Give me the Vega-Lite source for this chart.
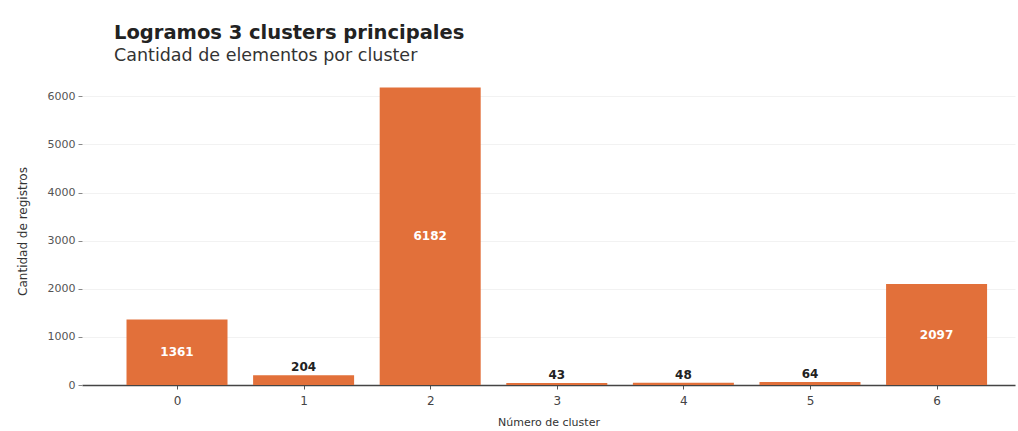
{
  "$schema": "https://vega.github.io/schema/vega-lite/v6.json",
  "autosize": "none",
  "width": 933,
  "height": 308,
  "padding": {"left": 82, "top": 77, "right": 3, "bottom": 46},
  "background": "white",
  "config": {
    "font": "DejaVu Sans",
    "view": {"stroke": null}
  },
  "title": {
    "text": "Logramos 3 clusters principales",
    "subtitle": "Cantidad de elementos por cluster",
    "anchor": "start",
    "frame": "group",
    "dx": 32,
    "offset": 12,
    "fontSize": 19.5,
    "fontWeight": "bold",
    "color": "#222222",
    "subtitleFontSize": 17.5,
    "subtitleColor": "#333333",
    "subtitlePadding": 3
  },
  "data": {
    "values": [
      {"cluster": 0, "n": 1361},
      {"cluster": 1, "n": 204},
      {"cluster": 2, "n": 6182},
      {"cluster": 3, "n": 43},
      {"cluster": 4, "n": 48},
      {"cluster": 5, "n": 64},
      {"cluster": 6, "n": 2097}
    ]
  },
  "encoding": {
    "x": {
      "field": "cluster", "type": "quantitative",
      "scale": {"domain": [-0.711, 6.58], "nice": false, "zero": false},
      "axis": {
        "values": [0, 1, 2, 3, 4, 5, 6], "format": "d", "grid": false,
        "title": "Número de cluster", "titleFontSize": 11, "titleFontWeight": "normal",
        "titleColor": "#333333", "titlePadding": 10,
        "labelFontSize": 12, "labelColor": "#444444", "labelPadding": 6,
        "tickSize": 4, "tickColor": "#555555",
        "domainColor": "#444444", "domainWidth": 1.5
      }
    }
  },
  "layer": [
    {
      "encoding": {
        "y": {
          "field": "n", "type": "quantitative",
          "scale": {"domain": [0, 6400], "nice": false},
          "axis": {
            "values": [0, 1000, 2000, 3000, 4000, 5000, 6000], "format": "d",
            "title": "Cantidad de registros", "titleFontSize": 12, "titleFontWeight": "normal",
            "titleColor": "#333333", "titlePadding": 18,
            "labelFontSize": 11, "labelColor": "#555555", "labelPadding": 3,
            "tickSize": 4, "tickColor": "#888888",
            "domain": false,
            "grid": true, "gridColor": "#f2f2f2", "gridWidth": 1
          }
        }
      },
      "layer": [
        {
          "mark": {"type": "bar", "width": 101, "color": "#E2703A"}
        },
        {
          "transform": [{"filter": "datum.n < 1000"}],
          "mark": {"type": "text", "baseline": "bottom", "dy": -1, "fontSize": 12, "fontWeight": "bold", "color": "#222222"},
          "encoding": {
            "text": {"field": "n", "type": "quantitative"}
          }
        }
      ]
    },
    {
      "transform": [{"filter": "datum.n >= 1000"}],
      "mark": {"type": "text", "baseline": "middle", "fontSize": 12, "fontWeight": "bold", "color": "#ffffff"},
      "encoding": {
        "y": {"field": "n", "type": "quantitative", "scale": {"domain": [0, 12800], "nice": false}, "axis": null},
        "text": {"field": "n", "type": "quantitative"}
      }
    }
  ],
  "resolve": {"scale": {"y": "independent"}}
}
